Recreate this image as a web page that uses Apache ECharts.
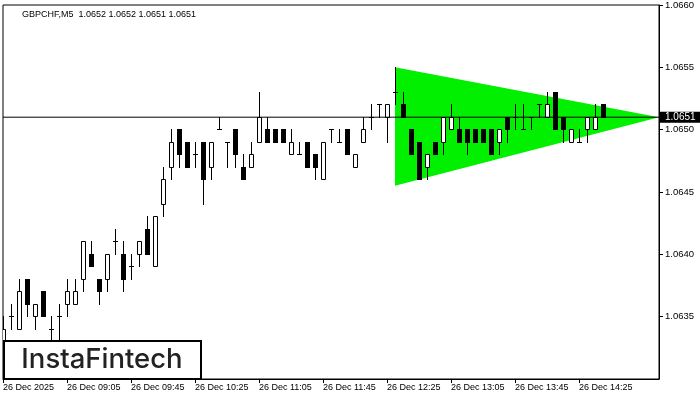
<!DOCTYPE html>
<html><head><meta charset="utf-8">
<script src="https://cdn.jsdelivr.net/npm/echarts@6/dist/echarts.min.js"></script>
<style>html,body{margin:0;padding:0;background:#fff}#c{width:700px;height:400px}</style>
</head><body><div id="c"></div>
<script>
// ---- data (GBPCHF, M5) ----
const openP = [
  1.0632,1.0635,1.0634,1.0638,1.0635,1.0637,1.0634,1.0635,1.0636,1.0636,
  1.0638,1.0640,1.0638,1.0638,1.0641,1.0640,1.0639,1.0640,1.0642,1.0639,
  1.0644,1.0647,1.0650,1.0649,1.0648,1.0649,1.0647,1.0650,1.0649,1.0650,
  1.0647,1.0647,1.0649,1.0650,1.0650,1.0650,1.0648,1.0648,1.0649,1.0648,
  1.0646,1.0650,1.0649,1.0650,1.0647,1.0649,1.0651,1.0652,1.0651,1.0653,
  1.0652,1.0650,1.0649,1.0647,1.0649,1.0649,1.0650,1.0650,1.0650,1.0650,
  1.0650,1.0650,1.0649,1.0651,1.0651,1.0650,1.0651,1.0652,1.0651,1.0653,
  1.0651,1.0649,1.0649,1.0650,1.0650,1.0652];
const highP = [
  1.0635,1.0636,1.0638,1.0638,1.0636,1.0637,1.0635,1.0636,1.0638,1.0638,
  1.0641,1.0641,1.0638,1.0640,1.0642,1.0641,1.0640,1.0641,1.0643,1.0643,
  1.0647,1.0650,1.0650,1.0649,1.0649,1.0649,1.0649,1.0651,1.0649,1.0650,
  1.0648,1.0649,1.0653,1.0651,1.0650,1.0650,1.0650,1.0649,1.0649,1.0648,
  1.0649,1.0650,1.0650,1.0650,1.0648,1.0651,1.0652,1.0652,1.0652,1.0655,
  1.0653,1.0650,1.0649,1.0648,1.0649,1.0651,1.0652,1.0651,1.0650,1.0650,
  1.0650,1.0650,1.0650,1.0651,1.0652,1.0652,1.0651,1.0652,1.0653,1.0653,
  1.0651,1.0650,1.0650,1.0651,1.0652,1.0652];
const lowP = [
  1.0631,1.0634,1.0634,1.0635,1.0634,1.0635,1.0633,1.0633,1.0635,1.0636,
  1.0637,1.0639,1.0636,1.0637,1.0640,1.0637,1.0638,1.0639,1.0640,1.0639,
  1.0643,1.0646,1.0647,1.0647,1.0647,1.0644,1.0646,1.0650,1.0647,1.0647,
  1.0646,1.0647,1.0649,1.0649,1.0649,1.0649,1.0648,1.0648,1.0647,1.0646,
  1.0646,1.0649,1.0649,1.0648,1.0647,1.0649,1.0650,1.0651,1.0649,1.0652,
  1.0651,1.0648,1.0646,1.0646,1.0648,1.0648,1.0650,1.0649,1.0648,1.0649,
  1.0649,1.0648,1.0648,1.0649,1.0650,1.0650,1.0650,1.0651,1.0651,1.0650,
  1.0649,1.0649,1.0649,1.0649,1.0650,1.0651];
const closeP = [
  1.0634,1.0635,1.0637,1.0636,1.0636,1.0635,1.0634,1.0635,1.0637,1.0637,
  1.0641,1.0639,1.0637,1.0640,1.0641,1.0638,1.0639,1.0641,1.0640,1.0643,
  1.0646,1.0649,1.0648,1.0647,1.0648,1.0646,1.0649,1.0650,1.0649,1.0648,
  1.0646,1.0648,1.0651,1.0649,1.0649,1.0649,1.0649,1.0648,1.0647,1.0647,
  1.0649,1.0650,1.0649,1.0648,1.0648,1.0650,1.0651,1.0652,1.0652,1.0653,
  1.0651,1.0648,1.0646,1.0648,1.0648,1.0651,1.0651,1.0649,1.0649,1.0649,
  1.0649,1.0648,1.0650,1.0650,1.0651,1.0650,1.0651,1.0652,1.0652,1.0650,
  1.0650,1.0650,1.0649,1.0651,1.0651,1.0651];

// symmetrical triangle pattern (bar index, price)
const triBars   = [49, 49, 82];
const triPrices = [1.0655, 1.06455, 1.0651];

const tickLabels = ["26 Dec 2025","26 Dec 09:05","26 Dec 09:45","26 Dec 10:25","26 Dec 11:05",
                    "26 Dec 11:45","26 Dec 12:25","26 Dec 13:05","26 Dec 13:45","26 Dec 14:25"];
const titleText = "GBPCHF,M5  1.0652 1.0652 1.0651 1.0651";
const lastPrice = 1.0651;
const slotCount = 83;      // bars + empty space to the triangle apex
const tickEvery = 8;

// ---- build ----
const categories = [];
for (let i = 0; i < slotCount; i++) {
  const m = 8 * 60 + 25 + 5 * i;
  categories.push('26 Dec ' + String(Math.floor(m / 60)).padStart(2, '0') + ':' + String(m % 60).padStart(2, '0'));
}
const candleData = openP.map((o, i) => [i, o, closeP[i], lowP[i], highP[i]]);
const triData = triBars.map((b, i) => [b, triPrices[i]]);
const isTick = (idx) => idx % tickEvery === 0 && idx / tickEvery < tickLabels.length;
const FONT = '"Liberation Sans", Arial, sans-serif';

const chart = echarts.init(document.getElementById('c'), null, {renderer: 'canvas'});
chart.setOption({
  animation: false,
  backgroundColor: '#fff',
  title: {
    text: titleText, left: 17, top: 5,
    textStyle: {fontSize: 9, fontWeight: 'normal', color: '#000', fontFamily: FONT}
  },
  grid: {left: 3, right: 41, top: 4, bottom: 21, show: true, borderColor: '#000', borderWidth: 1, backgroundColor: '#fff'},
  xAxis: {
    type: 'category', data: categories, boundaryGap: false,
    axisLine: {show: true, lineStyle: {color: '#000', width: 1}},
    axisTick: {show: true, length: 4, interval: isTick, lineStyle: {color: '#000'}},
    axisLabel: {
      interval: isTick, align: 'left', margin: 4, fontSize: 9, color: '#000', fontFamily: FONT,
      formatter: (v, idx) => tickLabels[idx / tickEvery] || ''
    },
    splitLine: {show: false}
  },
  yAxis: {
    type: 'value', position: 'right', min: 1.0630, max: 1.0660, interval: 0.0005,
    axisLine: {show: true, lineStyle: {color: '#000', width: 1}},
    axisTick: {show: true, length: 4, lineStyle: {color: '#000'}},
    axisLabel: {color: '#000', fontSize: 9.5, margin: 6, fontFamily: FONT, showMinLabel: false,
      formatter: v => (Math.abs(v - 1.0630) < 1e-7 ? '' : v.toFixed(4))},
    splitLine: {show: false}
  },
  series: [
    {
      type: 'custom', z: 1, clip: true, data: triData,
      renderItem: (params, api) => {
        if (params.dataIndex !== 0) return null;
        const pts = triBars.map((b, i) => api.coord([b, triPrices[i]]));
        return {type: 'polygon', shape: {points: pts}, style: {fill: '#00f000', stroke: null}};
      }
    },
    {
      type: 'custom', z: 2, clip: true, data: candleData,
      encode: {x: 0, y: [1, 2, 3, 4]},
      renderItem: (params, api) => {
        const i = api.value(0), o = api.value(1), c = api.value(2), lo = api.value(3), hi = api.value(4);
        const pH = api.coord([i, hi]), pL = api.coord([i, lo]);
        const pO = api.coord([i, o]), pC = api.coord([i, c]);
        const cx = Math.round(pH[0]);
        const yH = Math.floor(pH[1]), yL = Math.floor(pL[1]) + 1;
        const yTop = Math.floor(Math.min(pO[1], pC[1]));
        const yBot = Math.floor(Math.max(pO[1], pC[1]));
        const children = [{
          type: 'line', shape: {x1: cx + 0.5, y1: yH, x2: cx + 0.5, y2: yL},
          style: {stroke: '#000', lineWidth: 1}
        }];
        if (c < o) {
          children.push({type: 'rect', shape: {x: cx - 2, y: yTop, width: 5, height: yBot - yTop + 1},
            style: {fill: '#000'}});
        } else if (c > o) {
          children.push({type: 'rect', shape: {x: cx - 1.5, y: yTop + 0.5, width: 4, height: yBot - yTop},
            style: {fill: '#fff', stroke: '#000', lineWidth: 1}});
        } else {
          children.push({type: 'line', shape: {x1: cx - 2, y1: yTop + 0.5, x2: cx + 3, y2: yTop + 0.5},
            style: {stroke: '#000', lineWidth: 1}});
        }
        return {type: 'group', children};
      }
    },
    {
      type: 'line', z: 3, symbol: 'none', silent: true,
      data: [[0, lastPrice], [slotCount - 1, lastPrice]],
      lineStyle: {color: '#000', width: 1},
      endLabel: {
        show: true, distance: 0, formatter: () => lastPrice.toFixed(4),
        backgroundColor: '#000', color: '#fff', fontSize: 10, fontFamily: FONT,
        padding: [1, 5, 0, 6], lineHeight: 10
      }
    }
  ],
  graphic: [
    {type: 'rect', z: 100, shape: {x: 4, y: 341, width: 197, height: 38},
      style: {fill: '#fff', stroke: '#000', lineWidth: 2}},
    {type: 'text', z: 101, x: 102, y: 360,
      style: {text: 'InstaFintech', fill: '#222', font: '500 27.5px Inter, "Noto Sans", sans-serif',
        textAlign: 'center', textVerticalAlign: 'middle'}}
  ]
});
</script>
</body></html>
